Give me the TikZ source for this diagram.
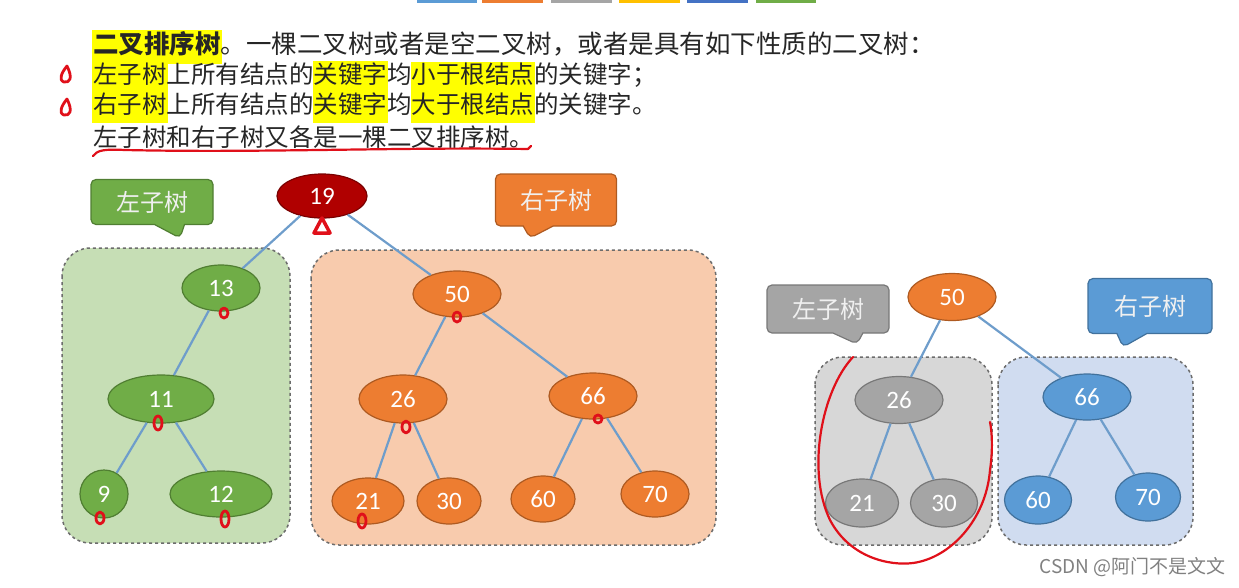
\documentclass[tikz,border=0pt]{standalone}
\usepackage{fontspec}
\setmainfont{Carlito}
\newfontfamily\cjkfont{Noto Sans CJK SC}
\usepackage{tikz}
\usetikzlibrary{shapes.geometric,shapes.callouts}

\definecolor{cblue}{HTML}{5B9BD5}
\definecolor{cblueD}{HTML}{41719C}
\definecolor{corange}{HTML}{ED7D31}
\definecolor{corangeD}{HTML}{AE5A21}
\definecolor{cgray}{HTML}{A5A5A5}
\definecolor{cgrayD}{HTML}{787878}
\definecolor{cgreen}{HTML}{70AD47}
\definecolor{cgreenD}{HTML}{507E32}
\definecolor{cyellow}{HTML}{FFC000}
\definecolor{cdblue}{HTML}{4472C4}
\definecolor{cred}{HTML}{B00000}
\definecolor{credD}{HTML}{7A0000}
\definecolor{hlyellow}{HTML}{FFFF00}
\definecolor{txtgray}{HTML}{262626}
\definecolor{pen}{HTML}{E0101A}
\definecolor{edgeblue}{HTML}{6E9DCB}

\newcommand\hl[1]{\hspace{-1pt}{\setlength{\fboxsep}{1pt}\colorbox{hlyellow}{\strut #1}}\hspace{-1pt}}

\tikzset{
  txt/.style={anchor=west,inner sep=0pt,text=txtgray,font=\cjkfont\fontsize{24.5}{28}\selectfont},
  key/.style={ellipse,inner sep=0pt,minimum height=46,line width=1.2pt,text=white,font=\fontsize{25}{28}\selectfont},
  gnode/.style={key,fill=cgreen,draw=cgreenD},
  onode/.style={key,fill=corange,draw=corangeD},
  hnode/.style={key,fill=cgray,draw=cgrayD},
  bnode/.style={key,fill=cblue,draw=cblueD},
  rootn/.style={key,fill=cred,draw=credD},
  edge/.style={draw=edgeblue,line width=2.2pt},
  subbox/.style={draw=gray!85!black,dashed,line width=1.5pt,rounded corners=28},
  tag/.style={rectangle callout,rounded corners=5,inner sep=0pt,line width=1.2pt,callout pointer width=30,
    text=white!88!gray,font=\cjkfont\fontsize{24}{26}\selectfont},
  redpen/.style={draw=pen,line width=2.8pt,line cap=round,line join=round}
}

\begin{document}
\begin{tikzpicture}[x=1pt,y=-1pt]
\useasboundingbox (0,0) rectangle (1239,587);

% colour strips cut off at the top
\foreach \xa/\xb/\c in {417/477/cblue,482/543/corange,551/612/cgray,619/680/cyellow,687/748/cdblue,756/816/cgreen}
  \fill[\c] (\xa,0) rectangle (\xb,3);

% definition text
\node[txt,font=\cjkfont\fontsize{25.5}{30}\selectfont] (l1) at (93,47) {\hl{\bfseries 二叉排序树}。一棵二叉树或者是空二叉树，或者是具有如下性质的二叉树：};
\node[txt] (l2) at (93,77) {\hl{左子树}上所有结点的\hl{关键字}均\hl{小于根结点}的关键字；};
\node[txt] (l3) at (93,107) {\hl{右子树}上所有结点的\hl{关键字}均\hl{大于根结点}的关键字。};
\node[txt] (l4) at (93,137) {左子树和右子树又各是一棵二叉排序树。};

% subtree frames
\draw[subbox,fill=cgreen!40] (62,248) rectangle (290,543);
\draw[subbox,fill=corange!40] (311,250) rectangle (716,545);
\draw[subbox,fill=cgray!45] (815,357) rectangle (992,545);
\draw[subbox,fill=cdblue!25] (998,357) rectangle (1193,545);

% big tree
\node[rootn,minimum width=90,minimum height=44] (r) at (322,196) {19};
\node[gnode,minimum width=78] (a13) at (221,288) {13};
\node[gnode,minimum width=106,minimum height=48] (a11) at (161,399) {11};
\node[gnode,minimum width=48,minimum height=48] (a9) at (104,494) {9};
\node[gnode,minimum width=102] (a12) at (221,494) {12};
\node[onode,minimum width=88] (b50) at (457,294) {50};
\node[onode,minimum width=88,minimum height=48] (b26) at (403,399) {26};
\node[onode,minimum width=88] (b66) at (593,396) {66};
\node[onode,minimum width=72] (b21) at (368,501) {21};
\node[onode,minimum width=64] (b30) at (449,501) {30};
\node[onode,minimum width=64] (b60) at (543,499) {60};
\node[onode,minimum width=68] (b70) at (655,494) {70};

% small tree
\node[onode,minimum width=88,minimum height=47] (c50) at (952,297) {50};
\node[hnode,minimum width=88,minimum height=47] (c26) at (899,400) {26};
\node[hnode,minimum width=73,minimum height=48] (c21) at (862,503) {21};
\node[hnode,minimum width=67,minimum height=48] (c30) at (944,503) {30};
\node[bnode,minimum width=88] (c66) at (1087,397) {66};
\node[bnode,minimum width=67,minimum height=48] (c60) at (1038,500) {60};
\node[bnode,minimum width=65,minimum height=48] (c70) at (1148,497) {70};

\foreach \p/\q in {r/a13,r/b50,a13/a11,a11/a9,a11/a12,b50/b26,b50/b66,b26/b21,b26/b30,b66/b60,b66/b70,
                   c50/c26,c50/c66,c26/c21,c26/c30,c66/c60,c66/c70}
  \draw[edge] (\p) -- (\q);

% labels
\node[tag,fill=cgreen,draw=cgreenD,minimum width=122,minimum height=45,callout absolute pointer={(180,238)}] (tl1) at (152,202) {左子树};
\node[tag,fill=corange,draw=corangeD,minimum width=121,minimum height=52,callout absolute pointer={(530,238)}] (tr1) at (556,200) {右子树};
\node[tag,fill=cgray,draw=cgrayD,minimum width=122,minimum height=48,callout absolute pointer={(857,344)}] (tl2) at (828,309) {左子树};
\node[tag,fill=cblue,draw=cblueD,minimum width=124,minimum height=55,callout absolute pointer={(1123,347)}] (tr2) at (1150,306) {右子树};

% pen marks
\foreach \yy in {66,99}
  \draw[redpen] (67,\yy) .. controls (62,\yy+6) and (58,\yy+14) .. (64,\yy+16) .. controls (70,\yy+17) and (73,\yy+12) .. (67,\yy);
\draw[redpen,line width=3.5pt] (322,218) -- (314,233) -- (330,233) -- cycle;
\foreach \px/\py/\rx/\ry in {224/313/4/5,158/423/4/7,100/518/4/6,225/519/4/8,457/317/4/5,406/427/4/6,598/419/4/4,362/521/4/7}
  \draw[redpen] (\px,\py) ellipse ({\rx} and {\ry});
\draw[redpen,line width=2.2pt] (93,156) .. controls (97,150) and (105,149) .. (125,150)
  .. controls (260,153) and (400,147) .. (528,149) -- (531,146);
\draw[redpen,line width=2.2pt] (853,357) .. controls (822,390) and (806,470) .. (830,520)
  .. controls (850,558) and (890,566) .. (913,563) .. controls (950,558) and (986,520) .. (990,470)
  .. controls (993,450) and (992,432) .. (990,422);

% watermark
\node[anchor=east,inner sep=0pt,text=gray,font=\cjkfont\fontsize{19}{22}\selectfont] (wm) at (1226,567) {CSDN @阿门不是文文};
\end{tikzpicture}
\end{document}
